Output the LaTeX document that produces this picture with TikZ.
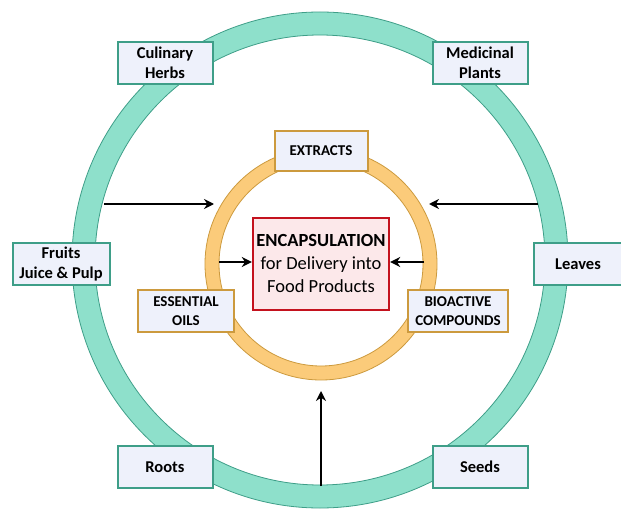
\documentclass[tikz,border=0pt]{standalone}
\usepackage{fontspec}
\setmainfont{Carlito}
\usetikzlibrary{arrows.meta}
\definecolor{tealfill}{HTML}{8EE0CB}
\definecolor{tealdraw}{HTML}{3E9E88}
\definecolor{orfill}{HTML}{FBCB7A}
\definecolor{ordraw}{HTML}{CC9A3E}
\definecolor{boxfill}{HTML}{EEF1FB}
\definecolor{cenfill}{HTML}{FCE8EA}
\definecolor{cendraw}{HTML}{C4121E}
\tikzset{
  outerbox/.style={draw=tealdraw, line width=2pt, fill=boxfill, minimum width=95pt, minimum height=42pt, align=center, font=\fontsize{16.5}{19.5}\selectfont\bfseries, inner sep=1pt},
  innerbox/.style={draw=ordraw, line width=2pt, fill=boxfill, minimum height=40pt, align=center, font=\fontsize{15}{19}\selectfont\bfseries, inner sep=1pt},
  arr/.style={line width=2.6pt, -{Stealth[length=10pt,width=10pt]}},
}
\begin{document}
\begin{tikzpicture}[x=1pt,y=-1pt]
\useasboundingbox (0,0) rectangle (621,513);
\fill[white] (0,0) rectangle (621,513);
% outer ring
\path[fill=tealfill, draw=tealdraw, line width=0.8pt, even odd rule] (320,260) circle[radius=248] (320,260) circle[radius=225];
% inner ring
\path[fill=orfill, draw=ordraw, line width=0.8pt, even odd rule] (321,264) circle[radius=116] (321,264) circle[radius=102];
% arrows ring endpoints
\coordinate (lA) at (104,204);
\coordinate (lB) at (214,204);
\coordinate (rA) at (538,204);
\coordinate (rB) at (429,204);
\coordinate (bA) at (321,486);
\coordinate (bB) at (321,391);
\coordinate (slA) at (219,262);
\coordinate (srA) at (424,262);
% outer labels
\node[outerbox] (herbs) at (165,63) {Culinary\\Herbs};
\node[outerbox] (med) at (480,63) {Medicinal\\Plants};
\node[outerbox, minimum width=97pt] (fruit) at (61,264) {Fruits\\Juice \& Pulp};
\node[outerbox, minimum width=88pt] (leaves) at (578,264) {Leaves};
\node[outerbox] (roots) at (165,467) {Roots};
\node[outerbox] (seeds) at (480,467) {Seeds};
% inner labels
\node[innerbox, minimum width=93pt] (extr) at (321,151) {EXTRACTS};
\node[innerbox, minimum width=96pt, minimum height=42pt] (oils) at (186,311) {ESSENTIAL\\OILS};
\node[innerbox, minimum width=100pt, minimum height=42pt] (bio) at (458,311) {BIOACTIVE\\COMPOUNDS};
% center
\node[draw=cendraw, line width=2.4pt, fill=cenfill, minimum width=136pt, minimum height=92pt, align=center, font=\fontsize{18.5}{23}\selectfont, inner sep=1pt] (cen) at (321,264) {\textbf{ENCAPSULATION}\\for Delivery into\\Food Products};
% arrows
\draw[arr] (lA) -- (lB);
\draw[arr] (rA) -- (rB);
\draw[arr] (bA) -- (bB);
\draw[arr] (slA) -- (cen.west |- slA);
\draw[arr] (srA) -- (cen.east |- srA);
\end{tikzpicture}
\end{document}
